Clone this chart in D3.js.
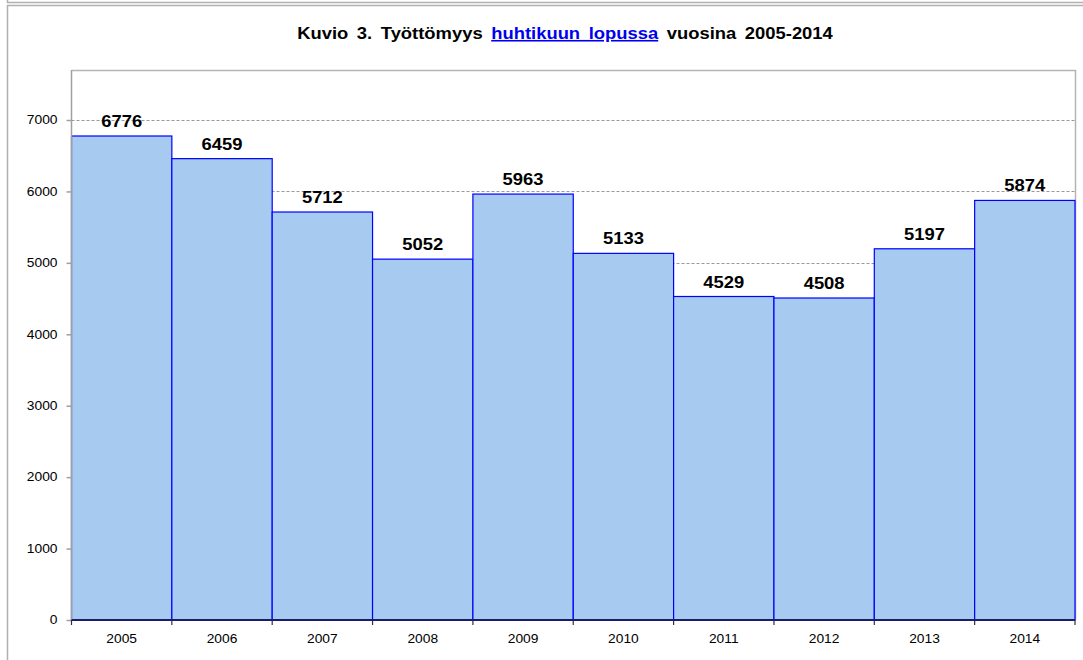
<!DOCTYPE html>
<meta charset="utf-8">
<style>
body { margin: 0; background: #fff; }
text { font-family: 'Liberation Sans', Arial, sans-serif; }
.title { font-size: 16px; font-weight: bold; word-spacing: 3px; }
.title .link { fill: #0000ee; text-decoration: underline; }
.axis text { font-size: 12px; fill: #000; }
.barLabel { font-size: 16px; font-weight: bold; text-anchor: middle; }
.bar { fill: #a6caf0; stroke: #0000ff; stroke-width: 1.2; }
.grid line { stroke: #999; stroke-dasharray: 3,2; }
</style>
<svg id="chart" width="1083" height="660"></svg>
<script src="https://cdnjs.cloudflare.com/ajax/libs/d3/7.8.5/d3.min.js"></script>
<script>

var years = ["2005", "2006", "2007", "2008", "2009", "2010", "2011", "2012", "2013", "2014"];
var unemployed = [6776, 6459, 5712, 5052, 5963, 5133, 4529, 4508, 5197, 5874];
var yTicks = [0, 1000, 2000, 3000, 4000, 5000, 6000, 7000];

var svg = d3.select("#chart");
var stretch = 1.15;

// outer frames
svg.append("path")
    .attr("d", "M7.5,0V2.5H1083")
    .attr("fill", "none").attr("stroke", "#b0b0b0").attr("stroke-width", 1.5);
svg.append("path")
    .attr("d", "M1083,5.5H7.5V660")
    .attr("fill", "none").attr("stroke", "#b0b0b0").attr("stroke-width", 1.5);

var plotLeft = 71.5, plotRight = 1075, plotTop = 70, plotBottom = 620;

var x = d3.scaleBand().domain(years).range([plotLeft, plotRight]).padding(0);
var y = d3.scaleLinear().domain([0, 7700]).range([plotBottom, plotTop]);

// title
var title = svg.append("text").attr("class", "title")
    .attr("text-anchor", "middle");
title.append("tspan").text("Kuvio 3. Työttömyys ");
title.append("tspan").attr("class", "link").text("huhtikuun lopussa");
title.append("tspan").text(" vuosina 2005-2014");
var titleW = title.node().getComputedTextLength();
title.attr("transform", "translate(565,39) scale(" + (536 / titleW) + ",1)");

// plot area border (top and right)
svg.append("path")
    .attr("d", "M" + plotLeft + "," + (plotTop + 0.5) + "H" + (plotRight + 0.5) + "V" + plotBottom)
    .attr("fill", "none").attr("stroke", "#b4b4b4").attr("stroke-width", 1.5);

// gridlines
svg.append("g").attr("class", "grid")
    .selectAll("line")
    .data(yTicks.filter(function(d) { return d > 0; }))
    .enter().append("line")
    .attr("x1", plotLeft).attr("x2", plotRight)
    .attr("y1", function(d) { return Math.round(y(d)) + 0.5; })
    .attr("y2", function(d) { return Math.round(y(d)) + 0.5; });

// bars
svg.selectAll(".bar")
    .data(unemployed)
    .enter().append("rect")
    .attr("class", "bar")
    .attr("x", function(d, i) { return x(years[i]); })
    .attr("y", function(d) { return y(d); })
    .attr("width", x.bandwidth())
    .attr("height", function(d) { return plotBottom - y(d); });

// value labels
svg.selectAll(".barLabel")
    .data(unemployed)
    .enter().append("text")
    .attr("class", "barLabel")
    .attr("transform", function(d, i) {
        return "translate(" + (x(years[i]) + x.bandwidth() / 2) + "," + (y(d) - 9) + ") scale(" + stretch + ",1)";
    })
    .text(function(d) { return d; });

// y axis
var yAxis = svg.append("g").attr("class", "axis")
    .attr("transform", "translate(" + plotLeft + ",0)")
    .call(d3.axisLeft(y).tickValues(yTicks).tickSize(5).tickPadding(8).tickFormat(d3.format("d")));
yAxis.select(".domain").attr("stroke", "#a0a0a0").attr("stroke-width", 1.5)
    .attr("d", "M0," + plotTop + "V" + plotBottom);
yAxis.selectAll(".tick line").attr("stroke", "#a0a0a0").attr("stroke-width", 1.5);
yAxis.selectAll(".tick text")
    .attr("x", null)
    .attr("transform", "translate(-14,0) scale(" + stretch + ",1)");

// x axis
var boundaries = years.map(function(d) { return x(d); }).concat([plotRight]);
svg.append("g").selectAll("line")
    .data(boundaries)
    .enter().append("line")
    .attr("x1", function(d) { return d; }).attr("x2", function(d) { return d; })
    .attr("y1", plotBottom).attr("y2", plotBottom + 5)
    .attr("stroke", "#333").attr("stroke-width", 1.2);
svg.append("line")
    .attr("x1", plotLeft).attr("x2", plotRight)
    .attr("y1", plotBottom).attr("y2", plotBottom)
    .attr("stroke", "#1c1c6c").attr("stroke-width", 2.2);
svg.append("g").attr("class", "axis")
    .selectAll("text")
    .data(years)
    .enter().append("text")
    .attr("text-anchor", "middle")
    .attr("transform", function(d) {
        return "translate(" + (x(d) + x.bandwidth() / 2) + ",643) scale(" + stretch + ",1)";
    })
    .text(function(d) { return d; });

</script>
